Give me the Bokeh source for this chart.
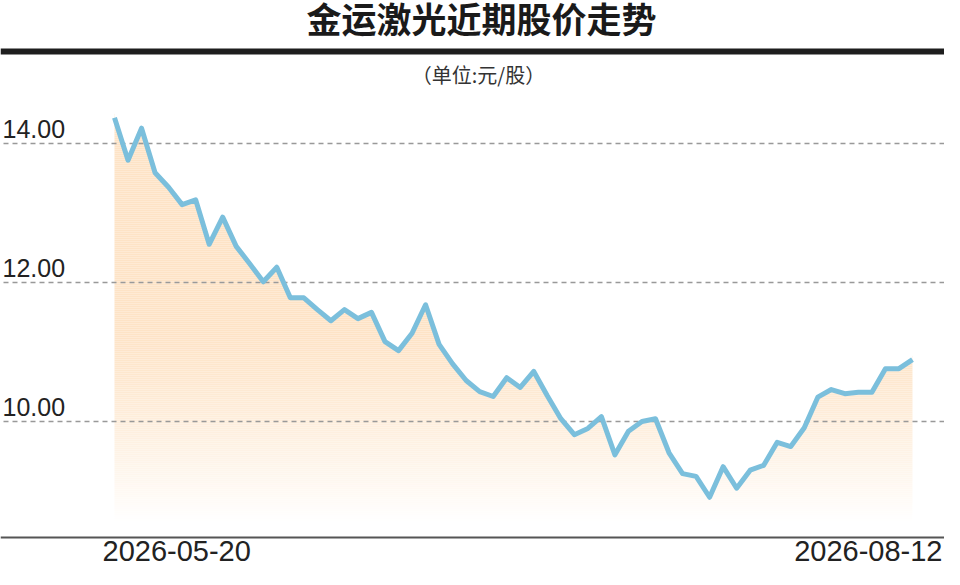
import numpy as np
from bokeh.plotting import figure
from bokeh.models import ColumnDataSource, Label, Range1d, Span
from bokeh.core.properties import value
from bokeh.embed import file_html
from bokeh.resources import INLINE

# ---------------- data ----------------
title_text = "金运激光近期股价走势"
unit_text = "（单位:元/股）"
date_labels = ["2026-05-20", "2026-08-12"]
y_ticks = [10.0, 12.0, 14.0]
y_tick_labels = ["10.00", "12.00", "14.00"]
prices = [14.37, 13.76, 14.22, 13.58, 13.37, 13.12, 13.19, 12.55, 12.94, 12.52,
          12.27, 12.01, 12.22, 11.78, 11.78, 11.61, 11.45, 11.61, 11.48, 11.57,
          11.15, 11.02, 11.27, 11.68, 11.11, 10.83, 10.59, 10.43, 10.36, 10.63,
          10.49, 10.72, 10.37, 10.04, 9.81, 9.90, 10.07, 9.52, 9.86, 10.00,
          10.04, 9.55, 9.25, 9.21, 8.91, 9.35, 9.04, 9.30, 9.37, 9.70,
          9.64, 9.91, 10.35, 10.46, 10.40, 10.42, 10.42, 10.76, 10.76, 10.89]

# ---------------- layout ----------------
W, H = 944, 569
PX_PER_STEP = 13.525     # horizontal px per trading day
PX_PER_UNIT = 69.5       # vertical px per yuan
X0_PX = 114              # px of first point inside figure
Y14_PX = 143             # px of 14.00 grid line inside figure


def x_of(px):
    return (px - X0_PX) / PX_PER_STEP


def y_of(py):
    return 14.0 - (py - Y14_PX) / PX_PER_UNIT


FLOOR_PX = 522
FADE_START_PX = 330
LINE_COLOR = "#7bbfdc"
FILL_RGB = np.array([253, 227, 198])
TEXT_COLOR = "#222222"

p = figure(width=W, height=H,
           x_range=Range1d(x_of(0), x_of(W)),
           y_range=Range1d(y_of(H), y_of(0)),
           output_backend="svg", toolbar_location=None,
           x_axis_location=None, y_axis_location=None,
           min_border=0, outline_line_color=None,
           background_fill_color="white", border_fill_color="white")
p.grid.visible = False

idx = np.arange(len(prices))
src = ColumnDataSource(dict(x=idx, y=prices))
last = len(prices) - 1

# gradient area: solid colour bands over the area's x extent ...
top_px = int(np.floor(Y14_PX - (max(prices) - 14.0) * PX_PER_UNIT)) - 4
edges_px = np.arange(top_px, FLOOR_PX + 2, 2)
t_px, b_px = edges_px[:-1], edges_px[1:]
tt = np.clip(((t_px + b_px) / 2 - FADE_START_PX) / (FLOOR_PX - FADE_START_PX), 0, 1)
w = tt ** 1.3
cols = ["#%02x%02x%02x" % tuple(np.round(FILL_RGB * (1 - k) + 255 * k).astype(int))
        for k in w]
bands = dict(left=np.zeros(len(tt)), right=np.full(len(tt), float(last)),
             top=[y_of(v) for v in t_px], bottom=[y_of(v) for v in b_px], color=cols)
p.quad(left="left", right="right", top="top", bottom="bottom", fill_color="color",
       line_color=None, source=ColumnDataSource(bands))
# ... and the part above the price line masked off in white
p.varea(x="x", y1="y", y2=y_of(0), source=src, fill_color="white", fill_alpha=1.0)
edge_gap = 4 / PX_PER_UNIT
p.segment(x0=[0, last], x1=[0, last],
          y0=[prices[0] + edge_gap, prices[-1] + edge_gap], y1=[y_of(0)] * 2,
          line_color="white", line_width=3)

# dashed grid lines
p.segment(x0=x_of(3), x1=x_of(W), y0=y_ticks, y1=y_ticks,
          line_color="#999999", line_width=1.5, line_dash="5 4")

# price line
p.line("x", "y", source=src, line_color=LINE_COLOR, line_width=5,
       line_join="round", line_cap="butt")

# y tick labels
p.text(x=[x_of(2)] * len(y_ticks), y=[v + 15 / PX_PER_UNIT for v in y_ticks],
       text=y_tick_labels, text_align="left", text_baseline="alphabetic",
       text_font=value("Liberation Sans"), text_font_size="25px",
       text_color=TEXT_COLOR)

# bottom axis line
p.add_layout(Span(location=y_of(537), dimension="width", line_color="#555555",
                  line_width=2))

# date labels
p.add_layout(Label(x=0, y=y_of(550), x_offset=-12, text=date_labels[0],
                   text_align="left", text_baseline="alphabetic",
                   text_font="Liberation Sans", text_font_size="29px",
                   text_color=TEXT_COLOR))
p.add_layout(Label(x=last, y=y_of(550), x_offset=30, text=date_labels[1],
                   text_align="right", text_baseline="alphabetic",
                   text_font="Liberation Sans", text_font_size="29px",
                   text_color=TEXT_COLOR))

# title, rule, unit
p.add_layout(Label(x=x_of(W / 2 + 9), y=y_of(17), text=title_text,
                   text_align="center", text_baseline="middle",
                   text_font="Noto Sans CJK SC", text_font_style="bold",
                   text_font_size="35px", text_color="#1a1a1a"))
p.add_layout(Span(location=y_of(51), dimension="width", line_color="#1e1e1e",
                  line_width=6))
p.add_layout(Label(x=x_of(478), y=y_of(74), text=unit_text,
                   text_align="center", text_baseline="middle",
                   text_font="Noto Sans CJK SC", text_font_size="20px",
                   text_color="#333333"))

open("out.html", "w").write(file_html(p, INLINE))
